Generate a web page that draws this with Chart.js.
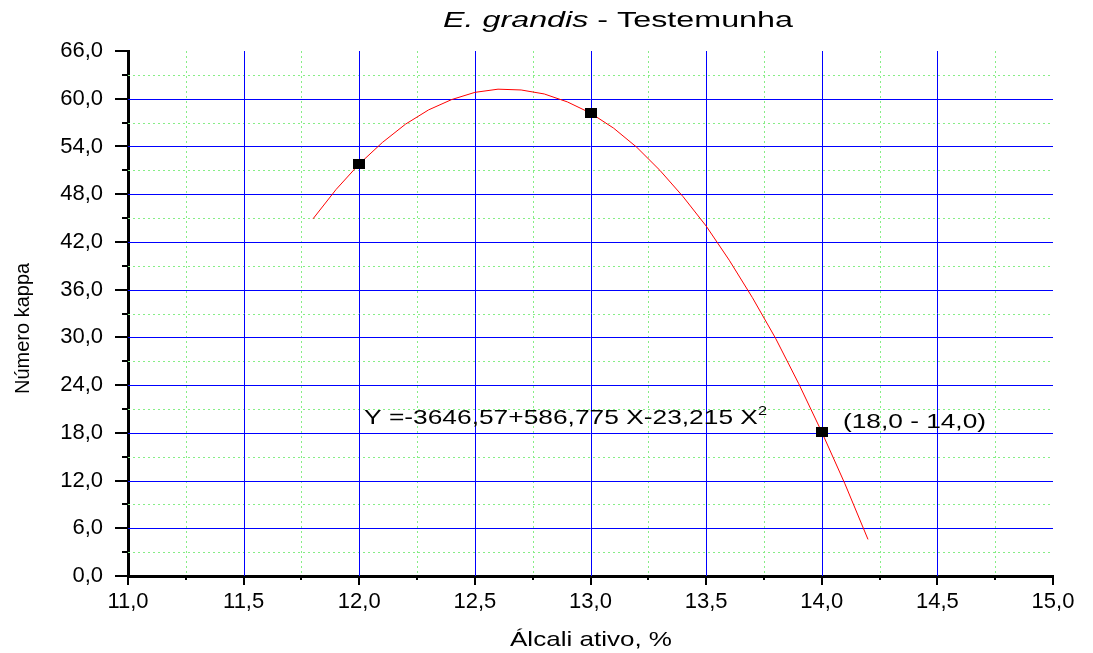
<!DOCTYPE html>
<html>
<head>
<meta charset="utf-8">
<script src="https://cdn.jsdelivr.net/npm/chart.js@4/dist/chart.umd.min.js"></script>
<style>
  body { margin: 0; background: #fff; }
  canvas { display: block; }
</style>
</head>
<body>
<canvas id="chart" width="1093" height="653"></canvas>
<script>
// axis ticks (major / minor)
var xTicks = [11.0, 11.5, 12.0, 12.5, 13.0, 13.5, 14.0, 14.5, 15.0];
var xMinor = [11.25, 11.75, 12.25, 12.75, 13.25, 13.75, 14.25, 14.75];
var yTicks = [0, 6, 12, 18, 24, 30, 36, 42, 48, 54, 60, 66];
var yMinor = [3, 9, 15, 21, 27, 33, 39, 45, 51, 57, 63];

// measured points
var sampleX = [12.0, 13.0, 14.0];
var sampleY = [51.8, 58.2, 18.1];

// fitted curve
var fitX = [11.8, 11.9, 12.0, 12.1, 12.2, 12.3, 12.4, 12.5, 12.6, 12.7, 12.8, 12.9, 13.0,
            13.1, 13.2, 13.3, 13.4, 13.5, 13.6, 13.7, 13.8, 13.9, 14.0, 14.1, 14.2];
var fitY = [44.9, 48.6, 51.8, 54.5, 56.8, 58.6, 59.9, 60.8, 61.2, 61.1, 60.6, 59.6, 58.2,
            56.3, 53.9, 51.0, 47.7, 44.0, 39.7, 35.0, 29.9, 24.2, 18.1, 11.6, 4.6];

var titleItalic = 'E. grandis';
var titleRest = ' - Testemunha';
var xTitle = 'Álcali ativo, %';
var yTitle = 'Número kappa';
var equation = 'Y =-3646,57+586,775 X-23,215 X';
var pointLabel = '(18,0 - 14,0)';

var FONT = '"Liberation Sans", Arial, sans-serif';

function fmt(v) { return v.toFixed(1).replace('.', ','); }

// black square marker
var marker = document.createElement('canvas');
marker.width = 12; marker.height = 10;
var mctx = marker.getContext('2d');
mctx.fillStyle = '#000';
mctx.fillRect(0, 0, 12, 10);

// draw text pieces on one baseline, squeezed/stretched to a given width
function drawParts(ctx, parts, x, y, width) {
  var w = 0;
  parts.forEach(function (p) { ctx.font = p.font; w += ctx.measureText(p.text).width; });
  ctx.save();
  ctx.translate(x, y);
  ctx.scale(width / w, 1);
  var cx = 0;
  parts.forEach(function (p) {
    ctx.font = p.font;
    ctx.fillText(p.text, cx, p.dy || 0);
    cx += ctx.measureText(p.text).width;
  });
  ctx.restore();
}

var gridPlugin = {
  id: 'grid',
  beforeDatasetsDraw: function (chart) {
    var ctx = chart.ctx, xs = chart.scales.x, ys = chart.scales.y, a = chart.chartArea;
    ctx.save();
    ctx.lineWidth = 1;
    ctx.strokeStyle = '#86ee86';
    ctx.setLineDash([2, 3]);
    ctx.beginPath();
    xMinor.forEach(function (v) {
      var px = Math.round(xs.getPixelForValue(v)) + 0.5;
      ctx.moveTo(px, a.top); ctx.lineTo(px, a.bottom);
    });
    yMinor.forEach(function (v) {
      var py = Math.round(ys.getPixelForValue(v)) + 0.5;
      ctx.moveTo(a.left, py); ctx.lineTo(a.right, py);
    });
    ctx.stroke();
    ctx.setLineDash([]);
    ctx.strokeStyle = '#0000ff';
    ctx.beginPath();
    xTicks.slice(1, -1).forEach(function (v) {
      var px = Math.round(xs.getPixelForValue(v)) + 0.5;
      ctx.moveTo(px, a.top); ctx.lineTo(px, a.bottom);
    });
    yTicks.slice(1, -1).forEach(function (v) {
      var py = Math.round(ys.getPixelForValue(v)) + 0.5;
      ctx.moveTo(a.left, py); ctx.lineTo(a.right, py);
    });
    ctx.stroke();
    ctx.restore();
  },
  afterDraw: function (chart) {
    var ctx = chart.ctx, xs = chart.scales.x, ys = chart.scales.y, a = chart.chartArea;
    ctx.save();
    // tick marks
    ctx.strokeStyle = '#000';
    ctx.lineWidth = 2;
    ctx.beginPath();
    yTicks.forEach(function (v) {
      var py = Math.round(ys.getPixelForValue(v));
      ctx.moveTo(a.left - 13, py); ctx.lineTo(a.left, py);
    });
    yMinor.forEach(function (v) {
      var py = Math.round(ys.getPixelForValue(v));
      ctx.moveTo(a.left - 6, py); ctx.lineTo(a.left, py);
    });
    xTicks.forEach(function (v) {
      var px = Math.round(xs.getPixelForValue(v));
      ctx.moveTo(px, a.bottom); ctx.lineTo(px, a.bottom + 9);
    });
    xMinor.forEach(function (v) {
      var px = Math.round(xs.getPixelForValue(v));
      ctx.moveTo(px, a.bottom); ctx.lineTo(px, a.bottom + 4);
    });
    ctx.stroke();

    // texts
    ctx.fillStyle = '#000';
    ctx.textBaseline = 'alphabetic';
    ctx.textAlign = 'left';
    drawParts(ctx, [
      { text: titleItalic, font: 'italic 22px ' + FONT },
      { text: titleRest, font: '22px ' + FONT }
    ], 443, 27, 350);
    drawParts(ctx, [{ text: xTitle, font: '21px ' + FONT }], 510, 646, 162);
    drawParts(ctx, [
      { text: equation, font: '21px ' + FONT },
      { text: '2', font: '13px ' + FONT, dy: -9 }
    ], 364, 424, 403);
    drawParts(ctx, [{ text: pointLabel, font: '21px ' + FONT }], 843, 428, 143);

    ctx.save();
    ctx.translate(29, 394);
    ctx.rotate(-Math.PI / 2);
    ctx.font = '20px ' + FONT;
    ctx.fillText(yTitle, 0, 0);
    ctx.restore();

    ctx.restore();
  }
};

var ctx = document.getElementById('chart').getContext('2d');
var chart = new Chart(ctx, {
  type: 'scatter',
  data: {
    datasets: [{
      label: 'Ajuste',
      data: fitX.map(function (x, i) { return { x: x, y: fitY[i] }; }),
      showLine: true,
      borderColor: '#ff0000',
      borderWidth: 1,
      pointRadius: 0,
      tension: 0,
      order: 2
    }, {
      label: 'Testemunha',
      data: sampleX.map(function (x, i) { return { x: x, y: sampleY[i] }; }),
      pointStyle: marker,
      pointRadius: 6,
      order: 1
    }]
  },
  options: {
    responsive: false,
    devicePixelRatio: 1,
    animation: false,
    layout: { padding: { top: 51, right: 40, left: 0, bottom: 0 } },
    plugins: {
      legend: { display: false },
      tooltip: { enabled: false }
    },
    scales: {
      x: {
        type: 'linear',
        min: 11, max: 15,
        afterBuildTicks: function (s) { s.ticks = xTicks.map(function (v) { return { value: v }; }); },
        afterFit: function (s) { s.height = 77; },
        grid: { display: false, drawTicks: false },
        border: { display: true, color: '#000', width: 3 },
        ticks: {
          autoSkip: false,
          maxRotation: 0,
          padding: 13,
          color: '#000',
          font: { family: FONT, size: 22 },
          callback: function (v) { return fmt(v); }
        }
      },
      y: {
        type: 'linear',
        min: 0, max: 66,
        afterBuildTicks: function (s) { s.ticks = yTicks.map(function (v) { return { value: v }; }); },
        afterFit: function (s) { s.width = 128; },
        grid: { display: false, drawTicks: false },
        border: { display: true, color: '#000', width: 3 },
        ticks: {
          autoSkip: false,
          padding: 25,
          color: '#000',
          font: { family: FONT, size: 22 },
          callback: function (v) { return fmt(v); }
        }
      }
    }
  },
  plugins: [gridPlugin]
});
</script>
</body>
</html>
